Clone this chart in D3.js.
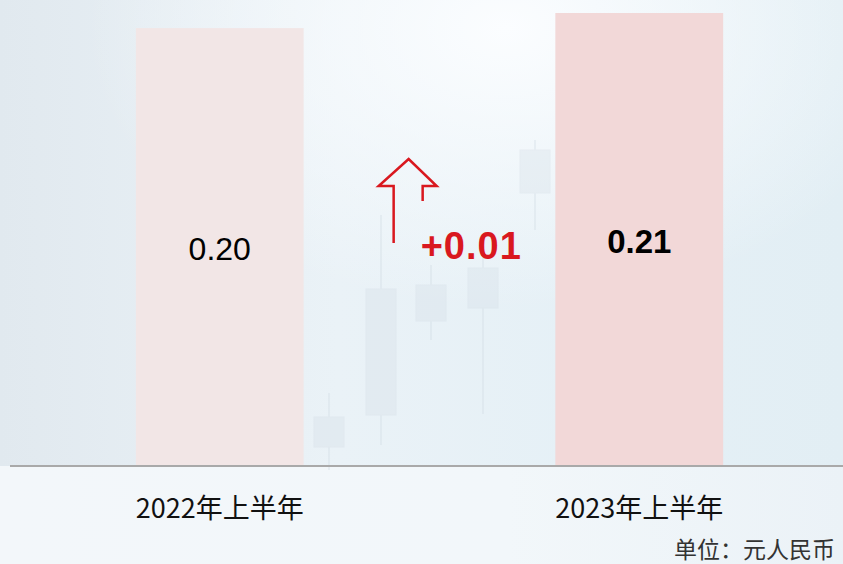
<!DOCTYPE html>
<html>
<head>
<meta charset="utf-8">
<script src="https://cdn.jsdelivr.net/npm/d3@7"></script>
<style>
  html, body { margin: 0; padding: 0; overflow: hidden; }
  svg { display: block; }
</style>
</head>
<body>
<div id="chart"></div>
<script>
// data
const categories = ["2022年上半年", "2023年上半年"];
const values = [0.203, 0.210];
const valueLabels = ["0.20", "0.21"];
const changeLabel = "+0.01";
const unitLabel = "单位：元人民币";

// faint candlesticks of the background picture: [x, open, close, low, high] in px
const bgCandles = [
  [329, 417, 447, 393, 470],
  [381, 289, 415, 215, 445],
  [431, 285, 321, 265, 340],
  [483, 268, 308, 250, 414],
  [535, 150, 193, 140, 230]
];

const W = 843, H = 564;
const baseY = 466;

const svg = d3.select("#chart")
  .append("svg")
    .attr("width", W)
    .attr("height", H);

// background
const defs = svg.append("defs");
const bg = defs.append("linearGradient")
  .attr("id", "bg").attr("x1", 0).attr("y1", 0).attr("x2", 1).attr("y2", 0);
bg.append("stop").attr("offset", "0%").attr("stop-color", "#e1e9ef");
bg.append("stop").attr("offset", "40%").attr("stop-color", "#eaf2f7");
bg.append("stop").attr("offset", "70%").attr("stop-color", "#e5f0f6");
bg.append("stop").attr("offset", "100%").attr("stop-color", "#e2eef4");

const glow = defs.append("radialGradient")
  .attr("id", "glow").attr("cx", 0.6).attr("cy", 0.05).attr("r", 0.5);
glow.append("stop").attr("offset", "0%").attr("stop-color", "#fbfdff").attr("stop-opacity", 1);
glow.append("stop").attr("offset", "100%").attr("stop-color", "#fbfdff").attr("stop-opacity", 0);

const floor = defs.append("linearGradient")
  .attr("id", "floor").attr("x1", 0).attr("y1", 0).attr("x2", 1).attr("y2", 0);
floor.append("stop").attr("offset", "0%").attr("stop-color", "#f3f7fa");
floor.append("stop").attr("offset", "60%").attr("stop-color", "#f2f7fa");
floor.append("stop").attr("offset", "100%").attr("stop-color", "#ebf2f7");

svg.append("rect").attr("width", W).attr("height", H).attr("fill", "url(#bg)");
svg.append("rect").attr("width", W).attr("height", H).attr("fill", "url(#glow)");
svg.append("rect").attr("y", baseY).attr("width", W).attr("height", H - baseY).attr("fill", "url(#floor)");

const candles = svg.append("g").attr("opacity", 0.3);
candles.selectAll("line")
  .data(bgCandles)
  .join("line")
    .attr("x1", d => d[0]).attr("x2", d => d[0])
    .attr("y1", d => d[4]).attr("y2", d => d[3])
    .attr("stroke", "#cdd8e1").attr("stroke-width", 2);
candles.selectAll("rect")
  .data(bgCandles)
  .join("rect")
    .attr("x", d => d[0] - 15)
    .attr("y", d => Math.min(d[1], d[2]))
    .attr("width", 30)
    .attr("height", d => Math.abs(d[2] - d[1]))
    .attr("fill", "#d3dde6")
    .attr("stroke", "#ccd6df");

// scales
const x = d3.scaleBand()
  .domain(categories)
  .range([10, 849])
  .paddingInner(0.6)
  .paddingOuter(0.3);

const y = d3.scaleLinear()
  .domain([0, 0.21])
  .range([baseY, 13]);

const barColors = ["#f2e6e6", "#f2d8d8"];

// bars
svg.selectAll(".bar")
  .data(values)
  .join("rect")
    .attr("class", "bar")
    .attr("x", (d, i) => x(categories[i]))
    .attr("y", d => y(d))
    .attr("width", x.bandwidth())
    .attr("height", d => baseY - y(d))
    .attr("fill", (d, i) => barColors[i]);

// baseline axis
const xAxis = svg.append("g")
  .attr("transform", `translate(0,${baseY})`)
  .call(d3.axisBottom(x).tickSize(0).tickPadding(0));
xAxis.select(".domain").remove();
xAxis.selectAll(".tick text").remove();
svg.append("line")
  .attr("x1", 10).attr("x2", W)
  .attr("y1", baseY).attr("y2", baseY)
  .attr("stroke", "#a9a9a9")
  .attr("stroke-width", 2);

// category labels
svg.selectAll(".cat")
  .data(categories)
  .join("text")
    .attr("class", "cat")
    .attr("x", d => x(d) + x.bandwidth() / 2)
    .attr("y", 518)
    .attr("text-anchor", "middle")
    .attr("font-family", "'Noto Sans CJK SC', sans-serif")
    .attr("font-size", 27)
    .attr("fill", "#111")
    .text(d => d);

// value labels
svg.selectAll(".val")
  .data(values)
  .join("text")
    .attr("class", "val")
    .attr("x", (d, i) => x(categories[i]) + x.bandwidth() / 2)
    .attr("y", (d, i) => i === 0 ? 260 : 253)
    .attr("text-anchor", "middle")
    .attr("font-family", "'Liberation Sans', Arial, sans-serif")
    .attr("font-size", (d, i) => i === 0 ? 32 : 33)
    .attr("font-weight", (d, i) => i === 0 ? "normal" : "bold")
    .attr("fill", "#000")
    .text((d, i) => valueLabels[i]);

// change annotation: open arrow and text
const gapLeft = x(categories[0]) + x.bandwidth();
const tipX = gapLeft + 105, tipY = 159;
svg.append("path")
  .attr("d", `M${tipX - 15},243 V186 H${tipX - 30} L${tipX},${tipY} L${tipX + 28},186 H${tipX + 14} V201`)
  .attr("fill", "none")
  .attr("stroke", "#d9181f")
  .attr("stroke-width", 2.5)
  .attr("stroke-linejoin", "miter");

svg.append("text")
  .attr("x", gapLeft + 117)
  .attr("y", 259)
  .attr("font-family", "'Liberation Sans', Arial, sans-serif")
  .attr("font-size", 38)
  .attr("font-weight", "bold")
  .attr("letter-spacing", 1)
  .attr("fill", "#d9181f")
  .text(changeLabel);

// unit note
svg.append("text")
  .attr("x", 835)
  .attr("y", 558)
  .attr("text-anchor", "end")
  .attr("font-family", "'Noto Sans CJK SC', sans-serif")
  .attr("font-size", 23)
  .attr("fill", "#333")
  .text(unitLabel);
</script>
</body>
</html>
